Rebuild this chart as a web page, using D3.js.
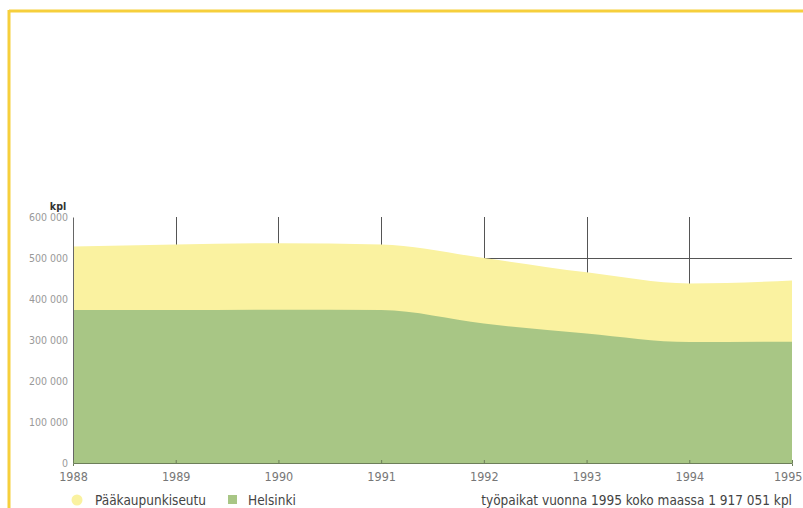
<!DOCTYPE html>
<html>
<head>
<meta charset="utf-8">
<script src="https://cdn.jsdelivr.net/npm/d3@7"></script>
<style>
  html, body { margin: 0; padding: 0; background: #fff; }
  svg { display: block; }
  text { font-family: "DejaVu Sans", sans-serif; font-stretch: condensed; }
</style>
</head>
<body>
<svg id="chart" width="803" height="508"></svg>
<script>
// Työpaikat pääkaupunkiseudulla ja Helsingissä 1988–1995 (kpl)
const years = [1988, 1989, 1990, 1991, 1992, 1993, 1994, 1995];
const paakaupunkiseutu = [528000, 533000, 536000, 533000, 500000, 465000, 438000, 445000];
const helsinki = [373000, 373000, 374000, 373000, 340000, 316000, 295000, 296000];
const yTicks = [0, 100000, 200000, 300000, 400000, 500000, 600000];
const seriesNames = ["Pääkaupunkiseutu", "Helsinki"];
const note = "työpaikat vuonna 1995 koko maassa 1 917 051 kpl";
const unit = "kpl";

const svg = d3.select("#chart");

const x = d3.scaleLinear().domain([1988, 1995]).range([73, 792]);
const y = d3.scaleLinear().domain([0, 600000]).range([463, 217]);

const fi = d3.formatLocale({ decimal: ",", thousands: " ", grouping: [3], currency: ["", " €"] });
const fmt = fi.format(",d");

// frame
svg.append("line").attr("x1", 9).attr("x2", 803).attr("y1", 11).attr("y2", 11)
  .attr("stroke", "#f6cf3c").attr("stroke-width", 3);
svg.append("line").attr("x1", 9).attr("x2", 9).attr("y1", 10).attr("y2", 508)
  .attr("stroke", "#f6cf3c").attr("stroke-width", 3);

// grid behind the areas
const grid = svg.append("g").attr("stroke", "#555").attr("stroke-width", 1);
grid.selectAll("line.v").data(years.slice(1, -1)).join("line")
  .attr("class", "v")
  .attr("x1", d => Math.round(x(d)) + 0.5).attr("x2", d => Math.round(x(d)) + 0.5)
  .attr("y1", y(600000)).attr("y2", y(0));
grid.append("line")
  .attr("x1", x(1988)).attr("x2", x(1995))
  .attr("y1", Math.round(y(500000)) + 0.5).attr("y2", Math.round(y(500000)) + 0.5);

const curve = d3.curveMonotoneX;
const areaTotal = d3.area().curve(curve)
  .x((d, i) => x(years[i])).y0(y(0)).y1(d => y(d));

svg.append("path").datum(paakaupunkiseutu).attr("d", areaTotal).attr("fill", "#faf2a0");
svg.append("path").datum(helsinki).attr("d", areaTotal).attr("fill", "#a8c685");

// y axis
const yAxis = svg.append("g").attr("transform", `translate(${x(1988)},0)`)
  .call(d3.axisLeft(y).tickValues(yTicks).tickFormat(fmt).tickSize(0).tickPadding(5));
yAxis.select(".domain").attr("stroke", "#666");
yAxis.selectAll("text").attr("fill", "#999").attr("font-size", 10.5);

svg.append("text").attr("x", 58).attr("y", 210).attr("text-anchor", "middle")
  .attr("font-size", 10.5).attr("font-weight", "bold").attr("fill", "#333").text(unit);

// x axis
const xAxis = svg.append("g").attr("transform", `translate(0,${y(0)})`)
  .call(d3.axisBottom(x).tickValues(years).tickFormat(d3.format("d")).tickSize(3).tickPadding(6));
xAxis.select(".domain").attr("stroke", "#6d7f5a");
xAxis.selectAll(".tick line").attr("stroke", "#6d7f5a").attr("transform", "translate(0,-3)");
xAxis.selectAll("text").attr("fill", "#777").attr("font-size", 12.5);
// last year label kept inside the page edge
xAxis.selectAll(".tick text").filter(d => d === 1995).attr("text-anchor", "end").attr("dx", 10);

// legend
const legY = 500;
svg.append("circle").attr("cx", 77).attr("cy", legY).attr("r", 5.5).attr("fill", "#faf2a0");
svg.append("text").attr("x", 95).attr("y", legY + 5).attr("font-size", 13.5).attr("fill", "#444")
  .text(seriesNames[0]);
svg.append("rect").attr("x", 228).attr("y", legY - 5).attr("width", 9).attr("height", 9).attr("fill", "#a8c685");
svg.append("text").attr("x", 248).attr("y", legY + 5).attr("font-size", 13.5).attr("fill", "#444")
  .text(seriesNames[1]);
svg.append("text").attr("x", 792).attr("y", legY + 5).attr("text-anchor", "end")
  .attr("font-size", 13.5).attr("fill", "#444").text(note);
</script>
</body>
</html>
